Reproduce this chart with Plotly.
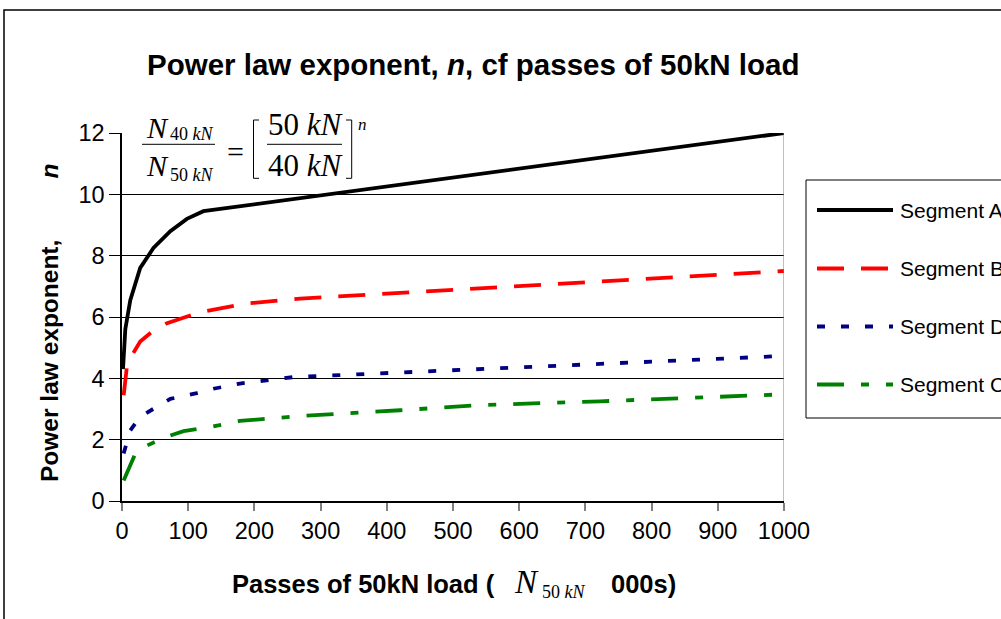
import plotly.graph_objects as go

# Passes of 50 kN load (thousands) and power-law exponent n for each pavement segment
passes_a = [1.5, 5, 12.5, 27.5, 47.5, 73, 98, 123, 1000]
n_a = [4.3, 5.6, 6.55, 7.6, 8.25, 8.8, 9.2, 9.45, 12.0]

passes_b = [2.5, 7.5, 15, 27.5, 47, 68, 103, 128, 178, 194, 269, 1000]
n_b = [3.45, 4.4, 4.75, 5.2, 5.55, 5.8, 6.05, 6.2, 6.4, 6.45, 6.6, 7.5]

passes_d = [2.5, 12.5, 27.5, 48, 73, 113, 138, 178, 259, 1000]
n_d = [1.55, 2.3, 2.75, 3.0, 3.33, 3.52, 3.66, 3.83, 4.04, 4.73]

passes_c = [2.5, 20, 33, 63, 93, 133, 178, 219, 269, 420, 544, 722, 875, 1000]
n_c = [0.67, 1.54, 1.76, 2.06, 2.28, 2.41, 2.61, 2.68, 2.77, 2.96, 3.13, 3.25, 3.36, 3.48]

series_names = ["Segment A", "Segment B", "Segment D", "Segment C"]
series_colors = ["#000000", "#FF0000", "#000080", "#008000"]
series_dash = ["solid", "27px,17px", "8px,16px", "27px,17px,8px,17px"]

x_ticks = [0, 100, 200, 300, 400, 500, 600, 700, 800, 900, 1000]
y_ticks = [0, 2, 4, 6, 8, 10, 12]

W, H = 1001, 619
ML, MR, MT, MB = 122, 217, 133, 118
PW, PH = W - ML - MR, H - MT - MB

SANS = "Liberation Sans, Arial, sans-serif"
SERIF = "Liberation Serif, Times New Roman, serif"


def px(x):
    return (x - ML) / PW


def py(y):
    return (H - MB - y) / PH


fig = go.Figure()
for xs, ys, name, col, dash in zip(
    [passes_a, passes_b, passes_d, passes_c],
    [n_a, n_b, n_d, n_c],
    series_names, series_colors, series_dash,
):
    fig.add_trace(go.Scatter(
        x=xs, y=ys, name=name, mode="lines",
        line=dict(color=col, width=3.8, dash=dash),
        showlegend=False,
    ))

shapes = []
annotations = []

# outer chart frame
shapes.append(dict(type="rect", xref="paper", yref="paper",
                   x0=px(4), x1=px(1012), y0=py(630), y1=py(10),
                   line=dict(color="black", width=1.5), fillcolor="rgba(0,0,0,0)"))

# right edge of the plot area
shapes.append(dict(type="line", xref="x", yref="y", x0=1000, x1=1000, y0=0, y1=12,
                   line=dict(color="#808080", width=1)))

# white panel behind the equation
shapes.append(dict(type="rect", xref="paper", yref="paper", layer="above",
                   x0=px(135), x1=px(375), y0=py(184), y1=py(112),
                   line=dict(width=0), fillcolor="white"))

# fraction bars
for x0, x1 in [(142, 215), (267, 342)]:
    shapes.append(dict(type="line", xref="paper", yref="paper", layer="above",
                       x0=px(x0), x1=px(x1), y0=py(144.3), y1=py(144.3),
                       line=dict(color="black", width=1)))

# square brackets
def bracket(xv, xf, yt, yb):
    return dict(type="path", xref="paper", yref="paper", layer="above",
                path=(f"M {px(xf)},{py(yt)} L {px(xv)},{py(yt)} "
                      f"L {px(xv)},{py(yb)} L {px(xf)},{py(yb)}"),
                line=dict(color="black", width=1))

shapes.append(bracket(253.5, 259, 120, 178.3))
shapes.append(bracket(351.7, 346, 120, 178.3))


def label(text, x, y, size, family=SERIF, xanchor="left", angle=0, color="black"):
    annotations.append(dict(text=text, xref="paper", yref="paper",
                            x=px(x), y=py(y), xanchor=xanchor, yanchor="middle",
                            showarrow=False, textangle=angle,
                            font=dict(family=family, size=size, color=color)))


# equation text
label("<i>N</i>", 144, 127, 30)
label("40 <i>kN</i>", 168, 134, 18)
label("<i>N</i>", 144, 165, 30)
label("50 <i>kN</i>", 168, 175, 18)
label("=", 225, 151, 30)
label("50 <i>kN</i>", 266, 125, 31)
label("40 <i>kN</i>", 266, 165, 31)
label("<i>n</i>", 356, 125, 17)

# chart title
label("<b>Power law exponent, <i>n</i>, cf passes of 50kN load</b>", 473, 64, 29.5,
      family=SANS, xanchor="center")

# y axis title
nb = "\u00a0"
label("<b>Power law exponent," + nb * 9 + "<i>n</i></b>", 49, 323, 24.5,
      family=SANS, xanchor="center", angle=-90)

# x axis title
label("<b>Passes of 50kN load (</b>", 497, 584, 25.5, family=SANS, xanchor="right")
label("<i>N</i>", 512, 582, 33)
label("50 <i>kN</i>", 540, 592, 18)
label("<b>000s)</b>", 609, 584, 25.5, family=SANS)

# legend
shapes.append(dict(type="rect", xref="paper", yref="paper",
                   x0=px(806), x1=px(1012), y0=py(418), y1=py(180),
                   line=dict(color="black", width=1), fillcolor="white"))
legend_y = [210, 268.5, 326.5, 384.5]
for name, col, dash, yy in zip(series_names, series_colors, series_dash, legend_y):
    shapes.append(dict(type="line", xref="paper", yref="paper",
                       x0=px(817), x1=px(893), y0=py(yy), y1=py(yy),
                       line=dict(color=col, width=3.8, dash=dash)))
    label(name, 898, yy, 21, family=SANS)

fig.update_layout(
    width=W, height=H,
    margin=dict(l=ML, r=MR, t=MT, b=MB, pad=0),
    paper_bgcolor="white", plot_bgcolor="white",
    showlegend=False,
    shapes=shapes, annotations=annotations,
    xaxis=dict(range=[0, 1000], tickvals=x_ticks, ticktext=[str(v) for v in x_ticks],
               showgrid=False, zeroline=False,
               showline=True, linecolor="black", linewidth=1.5,
               ticks="outside", ticklen=8, tickcolor="#808080", tickwidth=1.5,
               tickfont=dict(family=SANS, size=23.5, color="black")),
    yaxis=dict(range=[0, 12], tickvals=y_ticks, ticktext=[str(v) for v in y_ticks],
               showgrid=True, gridcolor="black", gridwidth=1, zeroline=False,
               showline=True, linecolor="black", linewidth=1.5,
               ticks="outside", ticklen=11, tickcolor="black", tickwidth=1,
               tickfont=dict(family=SANS, size=23.5, color="black")),
)

fig.write_html("out.html")
